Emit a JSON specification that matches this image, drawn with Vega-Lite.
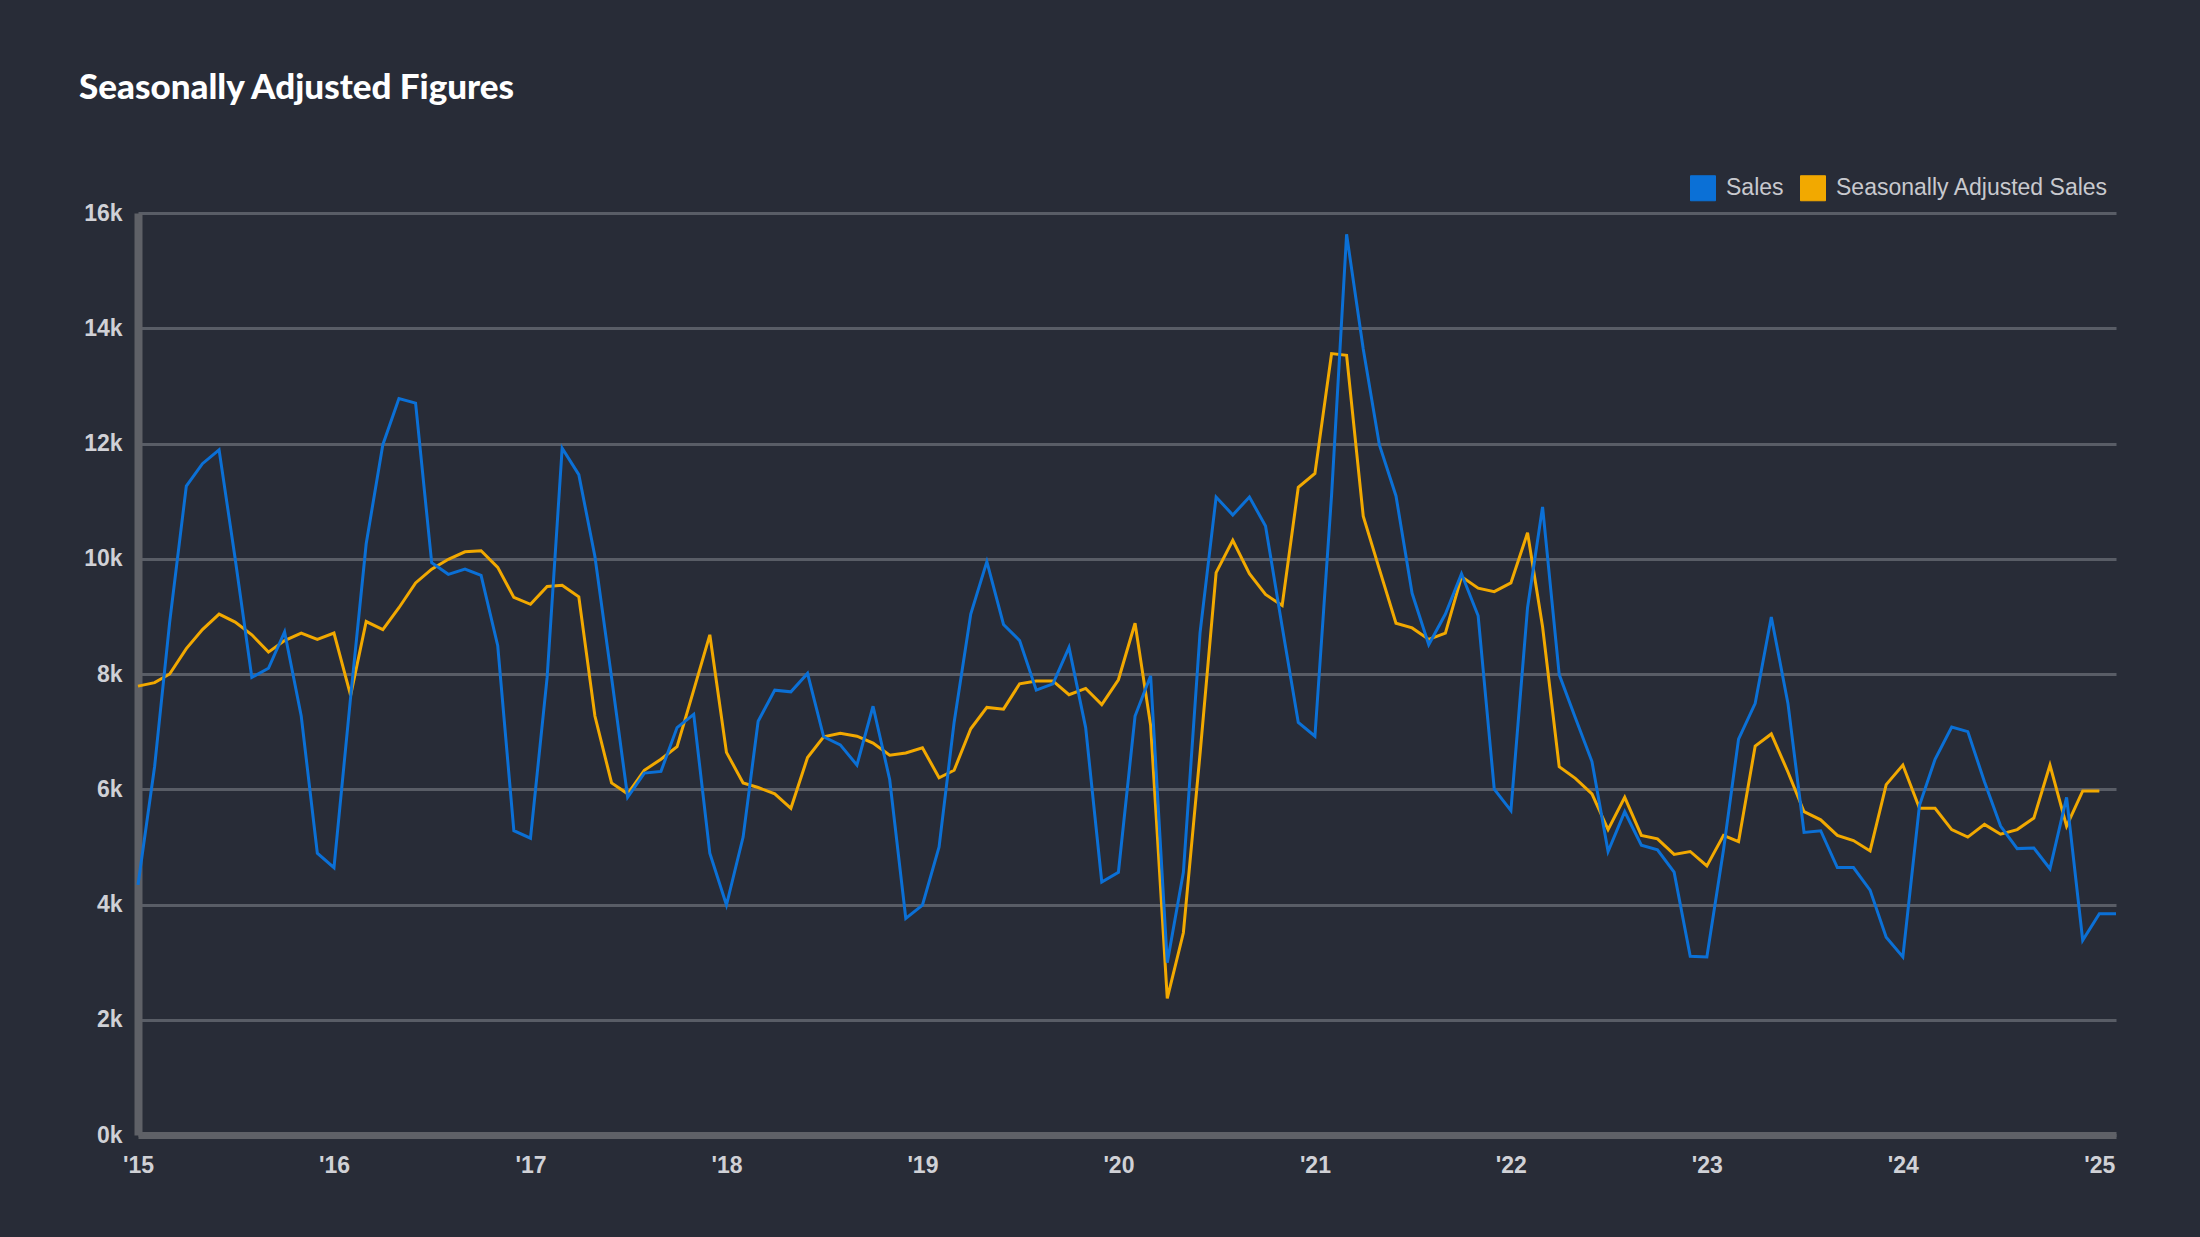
{
  "$schema": "https://vega.github.io/schema/vega-lite/v6.json",
  "autosize": {"type": "none"},
  "width": 1978,
  "height": 922,
  "padding": {"left": 138, "top": 213, "right": 84, "bottom": 102},
  "background": "#282c37",
  "title": {
    "text": "Seasonally Adjusted Figures",
    "anchor": "start",
    "frame": "group",
    "orient": "top",
    "dx": -59,
    "offset": 41,
    "baseline": "alphabetic",
    "font": "Lato",
    "fontSize": 35,
    "fontWeight": 900,
    "color": "#ffffff"
  },
  "config": {
    "view": {"stroke": null},
    "axis": {"labelFont": "Liberation Sans", "labelFontWeight": "bold", "labelFontSize": 23, "labelColor": "#d0d1d6", "ticks": false, "title": null}
  },
  "data": {
    "values": [
      {"month": "2015-01-01", "Sales": 4340, "Seasonally Adjusted Sales": 7790},
      {"month": "2015-02-01", "Sales": 6400, "Seasonally Adjusted Sales": 7850},
      {"month": "2015-03-01", "Sales": 8900, "Seasonally Adjusted Sales": 8000},
      {"month": "2015-04-01", "Sales": 11260, "Seasonally Adjusted Sales": 8440},
      {"month": "2015-05-01", "Sales": 11650, "Seasonally Adjusted Sales": 8770},
      {"month": "2015-06-01", "Sales": 11890, "Seasonally Adjusted Sales": 9040},
      {"month": "2015-07-01", "Sales": 10000, "Seasonally Adjusted Sales": 8900},
      {"month": "2015-08-01", "Sales": 7940, "Seasonally Adjusted Sales": 8680},
      {"month": "2015-09-01", "Sales": 8100, "Seasonally Adjusted Sales": 8380},
      {"month": "2015-10-01", "Sales": 8730, "Seasonally Adjusted Sales": 8580},
      {"month": "2015-11-01", "Sales": 7270, "Seasonally Adjusted Sales": 8710},
      {"month": "2015-12-01", "Sales": 4890, "Seasonally Adjusted Sales": 8600},
      {"month": "2016-01-01", "Sales": 4640, "Seasonally Adjusted Sales": 8710},
      {"month": "2016-02-01", "Sales": 7600, "Seasonally Adjusted Sales": 7630},
      {"month": "2016-03-01", "Sales": 10260, "Seasonally Adjusted Sales": 8910},
      {"month": "2016-04-01", "Sales": 11980, "Seasonally Adjusted Sales": 8770},
      {"month": "2016-05-01", "Sales": 12780, "Seasonally Adjusted Sales": 9150},
      {"month": "2016-06-01", "Sales": 12700, "Seasonally Adjusted Sales": 9580},
      {"month": "2016-07-01", "Sales": 9930, "Seasonally Adjusted Sales": 9820},
      {"month": "2016-08-01", "Sales": 9730, "Seasonally Adjusted Sales": 9990},
      {"month": "2016-09-01", "Sales": 9820, "Seasonally Adjusted Sales": 10120},
      {"month": "2016-10-01", "Sales": 9710, "Seasonally Adjusted Sales": 10140},
      {"month": "2016-11-01", "Sales": 8490, "Seasonally Adjusted Sales": 9850},
      {"month": "2016-12-01", "Sales": 5280, "Seasonally Adjusted Sales": 9330},
      {"month": "2017-01-01", "Sales": 5150, "Seasonally Adjusted Sales": 9210},
      {"month": "2017-02-01", "Sales": 7940, "Seasonally Adjusted Sales": 9520},
      {"month": "2017-03-01", "Sales": 11920, "Seasonally Adjusted Sales": 9540},
      {"month": "2017-04-01", "Sales": 11460, "Seasonally Adjusted Sales": 9340},
      {"month": "2017-05-01", "Sales": 10040, "Seasonally Adjusted Sales": 7270},
      {"month": "2017-06-01", "Sales": 7940, "Seasonally Adjusted Sales": 6110},
      {"month": "2017-07-01", "Sales": 5860, "Seasonally Adjusted Sales": 5920},
      {"month": "2017-08-01", "Sales": 6280, "Seasonally Adjusted Sales": 6330},
      {"month": "2017-09-01", "Sales": 6310, "Seasonally Adjusted Sales": 6520},
      {"month": "2017-10-01", "Sales": 7070, "Seasonally Adjusted Sales": 6740},
      {"month": "2017-11-01", "Sales": 7300, "Seasonally Adjusted Sales": 7720},
      {"month": "2017-12-01", "Sales": 4890, "Seasonally Adjusted Sales": 8680},
      {"month": "2018-01-01", "Sales": 3990, "Seasonally Adjusted Sales": 6640},
      {"month": "2018-02-01", "Sales": 5170, "Seasonally Adjusted Sales": 6110},
      {"month": "2018-03-01", "Sales": 7180, "Seasonally Adjusted Sales": 6030},
      {"month": "2018-04-01", "Sales": 7720, "Seasonally Adjusted Sales": 5920},
      {"month": "2018-05-01", "Sales": 7690, "Seasonally Adjusted Sales": 5670},
      {"month": "2018-06-01", "Sales": 8010, "Seasonally Adjusted Sales": 6550},
      {"month": "2018-07-01", "Sales": 6910, "Seasonally Adjusted Sales": 6910},
      {"month": "2018-08-01", "Sales": 6770, "Seasonally Adjusted Sales": 6970},
      {"month": "2018-09-01", "Sales": 6420, "Seasonally Adjusted Sales": 6920},
      {"month": "2018-10-01", "Sales": 7440, "Seasonally Adjusted Sales": 6800},
      {"month": "2018-11-01", "Sales": 6170, "Seasonally Adjusted Sales": 6590},
      {"month": "2018-12-01", "Sales": 3760, "Seasonally Adjusted Sales": 6630},
      {"month": "2019-01-01", "Sales": 3990, "Seasonally Adjusted Sales": 6720},
      {"month": "2019-02-01", "Sales": 5000, "Seasonally Adjusted Sales": 6200},
      {"month": "2019-03-01", "Sales": 7160, "Seasonally Adjusted Sales": 6330},
      {"month": "2019-04-01", "Sales": 9040, "Seasonally Adjusted Sales": 7050},
      {"month": "2019-05-01", "Sales": 9950, "Seasonally Adjusted Sales": 7420},
      {"month": "2019-06-01", "Sales": 8860, "Seasonally Adjusted Sales": 7390},
      {"month": "2019-07-01", "Sales": 8580, "Seasonally Adjusted Sales": 7830},
      {"month": "2019-08-01", "Sales": 7720, "Seasonally Adjusted Sales": 7880},
      {"month": "2019-09-01", "Sales": 7830, "Seasonally Adjusted Sales": 7880},
      {"month": "2019-10-01", "Sales": 8460, "Seasonally Adjusted Sales": 7640},
      {"month": "2019-11-01", "Sales": 7070, "Seasonally Adjusted Sales": 7750},
      {"month": "2019-12-01", "Sales": 4390, "Seasonally Adjusted Sales": 7470},
      {"month": "2020-01-01", "Sales": 4560, "Seasonally Adjusted Sales": 7900},
      {"month": "2020-02-01", "Sales": 7270, "Seasonally Adjusted Sales": 8880},
      {"month": "2020-03-01", "Sales": 7970, "Seasonally Adjusted Sales": 7110},
      {"month": "2020-04-01", "Sales": 2990, "Seasonally Adjusted Sales": 2370},
      {"month": "2020-05-01", "Sales": 4560, "Seasonally Adjusted Sales": 3510},
      {"month": "2020-06-01", "Sales": 8710, "Seasonally Adjusted Sales": 6610},
      {"month": "2020-07-01", "Sales": 11070, "Seasonally Adjusted Sales": 9760},
      {"month": "2020-08-01", "Sales": 10760, "Seasonally Adjusted Sales": 10320},
      {"month": "2020-09-01", "Sales": 11070, "Seasonally Adjusted Sales": 9740},
      {"month": "2020-10-01", "Sales": 10570, "Seasonally Adjusted Sales": 9380},
      {"month": "2020-11-01", "Sales": 8820, "Seasonally Adjusted Sales": 9190},
      {"month": "2020-12-01", "Sales": 7160, "Seasonally Adjusted Sales": 11240},
      {"month": "2021-01-01", "Sales": 6920, "Seasonally Adjusted Sales": 11480},
      {"month": "2021-02-01", "Sales": 11100, "Seasonally Adjusted Sales": 13560},
      {"month": "2021-03-01", "Sales": 15630, "Seasonally Adjusted Sales": 13530},
      {"month": "2021-04-01", "Sales": 13640, "Seasonally Adjusted Sales": 10740},
      {"month": "2021-05-01", "Sales": 11980, "Seasonally Adjusted Sales": 9820},
      {"month": "2021-06-01", "Sales": 11090, "Seasonally Adjusted Sales": 8880},
      {"month": "2021-07-01", "Sales": 9400, "Seasonally Adjusted Sales": 8800},
      {"month": "2021-08-01", "Sales": 8510, "Seasonally Adjusted Sales": 8600},
      {"month": "2021-09-01", "Sales": 9040, "Seasonally Adjusted Sales": 8710},
      {"month": "2021-10-01", "Sales": 9740, "Seasonally Adjusted Sales": 9690},
      {"month": "2021-11-01", "Sales": 9010, "Seasonally Adjusted Sales": 9490},
      {"month": "2021-12-01", "Sales": 6000, "Seasonally Adjusted Sales": 9430},
      {"month": "2022-01-01", "Sales": 5630, "Seasonally Adjusted Sales": 9580},
      {"month": "2022-02-01", "Sales": 9150, "Seasonally Adjusted Sales": 10450},
      {"month": "2022-03-01", "Sales": 10900, "Seasonally Adjusted Sales": 8820},
      {"month": "2022-04-01", "Sales": 7990, "Seasonally Adjusted Sales": 6390},
      {"month": "2022-05-01", "Sales": 7240, "Seasonally Adjusted Sales": 6190},
      {"month": "2022-06-01", "Sales": 6480, "Seasonally Adjusted Sales": 5920},
      {"month": "2022-07-01", "Sales": 4920, "Seasonally Adjusted Sales": 5300},
      {"month": "2022-08-01", "Sales": 5610, "Seasonally Adjusted Sales": 5860},
      {"month": "2022-09-01", "Sales": 5030, "Seasonally Adjusted Sales": 5200},
      {"month": "2022-10-01", "Sales": 4950, "Seasonally Adjusted Sales": 5140},
      {"month": "2022-11-01", "Sales": 4560, "Seasonally Adjusted Sales": 4870},
      {"month": "2022-12-01", "Sales": 3100, "Seasonally Adjusted Sales": 4920},
      {"month": "2023-01-01", "Sales": 3090, "Seasonally Adjusted Sales": 4670},
      {"month": "2023-02-01", "Sales": 4950, "Seasonally Adjusted Sales": 5200},
      {"month": "2023-03-01", "Sales": 6870, "Seasonally Adjusted Sales": 5090},
      {"month": "2023-04-01", "Sales": 7490, "Seasonally Adjusted Sales": 6750},
      {"month": "2023-05-01", "Sales": 8990, "Seasonally Adjusted Sales": 6960},
      {"month": "2023-06-01", "Sales": 7490, "Seasonally Adjusted Sales": 6300},
      {"month": "2023-07-01", "Sales": 5250, "Seasonally Adjusted Sales": 5610},
      {"month": "2023-08-01", "Sales": 5280, "Seasonally Adjusted Sales": 5470},
      {"month": "2023-09-01", "Sales": 4640, "Seasonally Adjusted Sales": 5200},
      {"month": "2023-10-01", "Sales": 4640, "Seasonally Adjusted Sales": 5110},
      {"month": "2023-11-01", "Sales": 4250, "Seasonally Adjusted Sales": 4930},
      {"month": "2023-12-01", "Sales": 3430, "Seasonally Adjusted Sales": 6080},
      {"month": "2024-01-01", "Sales": 3090, "Seasonally Adjusted Sales": 6420},
      {"month": "2024-02-01", "Sales": 5720, "Seasonally Adjusted Sales": 5670},
      {"month": "2024-03-01", "Sales": 6520, "Seasonally Adjusted Sales": 5670},
      {"month": "2024-04-01", "Sales": 7080, "Seasonally Adjusted Sales": 5300},
      {"month": "2024-05-01", "Sales": 7000, "Seasonally Adjusted Sales": 5170},
      {"month": "2024-06-01", "Sales": 6130, "Seasonally Adjusted Sales": 5390},
      {"month": "2024-07-01", "Sales": 5360, "Seasonally Adjusted Sales": 5220},
      {"month": "2024-08-01", "Sales": 4970, "Seasonally Adjusted Sales": 5300},
      {"month": "2024-09-01", "Sales": 4980, "Seasonally Adjusted Sales": 5500},
      {"month": "2024-10-01", "Sales": 4620, "Seasonally Adjusted Sales": 6420},
      {"month": "2024-11-01", "Sales": 5860, "Seasonally Adjusted Sales": 5360},
      {"month": "2024-12-01", "Sales": 3380, "Seasonally Adjusted Sales": 5970},
      {"month": "2025-01-01", "Sales": 3840, "Seasonally Adjusted Sales": 5970},
      {"month": "2025-02-01", "Sales": 3840}
    ]
  },
  "transform": [
    {"fold": ["Sales", "Seasonally Adjusted Sales"], "as": ["series", "value"]},
    {"filter": "isValid(datum.value)"}
  ],
  "encoding": {
    "x": {
      "field": "month",
      "type": "temporal",
      "scale": {
        "type": "utc",
        "domain": [
          {"year": 2015, "month": 1, "date": 1, "utc": true},
          {"year": 2025, "month": 2, "date": 1, "utc": true}
        ]
      },
      "axis": {
        "labelExpr": "\"'\" + utcFormat(datum.value, '%y')",
        "values": [
          {"year": 2015, "month": 1, "date": 1, "utc": true},
          {"year": 2016, "month": 1, "date": 1, "utc": true},
          {"year": 2017, "month": 1, "date": 1, "utc": true},
          {"year": 2018, "month": 1, "date": 1, "utc": true},
          {"year": 2019, "month": 1, "date": 1, "utc": true},
          {"year": 2020, "month": 1, "date": 1, "utc": true},
          {"year": 2021, "month": 1, "date": 1, "utc": true},
          {"year": 2022, "month": 1, "date": 1, "utc": true},
          {"year": 2023, "month": 1, "date": 1, "utc": true},
          {"year": 2024, "month": 1, "date": 1, "utc": true},
          {"year": 2025, "month": 1, "date": 1, "utc": true}
        ],
        "grid": false,
        "domainColor": "#5f6167",
        "domainWidth": 7,
        "labelPadding": 19,
        "labelBaseline": "top",
        "labelFlush": false,
        "labelOverlap": false
      }
    },
    "y": {
      "field": "value",
      "type": "quantitative",
      "scale": {"domain": [0, 16000], "nice": false},
      "axis": {
        "values": [0, 2000, 4000, 6000, 8000, 10000, 12000, 14000, 16000],
        "labelExpr": "datum.value / 1000 + 'k'",
        "grid": true,
        "gridColor": "#595d66",
        "gridWidth": 3,
        "domainColor": "#5f6167",
        "domainWidth": 8,
        "labelPadding": 16,
        "zindex": 0
      }
    },
    "color": {
      "field": "series",
      "type": "nominal",
      "scale": {"domain": ["Sales", "Seasonally Adjusted Sales"], "range": ["#0b70d6", "#f2a900"]},
      "legend": {
        "title": null,
        "orient": "none",
        "legendX": 1552,
        "legendY": -38,
        "direction": "horizontal",
        "symbolType": "square",
        "symbolSize": 625,
        "symbolStrokeWidth": 1,
        "symbolOpacity": 1,
        "labelFont": "Liberation Sans",
        "labelFontSize": 23,
        "labelColor": "#c8c9ce",
        "labelLimit": 500,
        "labelOffset": 10,
        "columnPadding": 14,
        "encode": {"symbols": {"update": {"fill": {"scale": "color", "field": "value"}}}}
      }
    }
  },
  "layer": [
    {
      "transform": [{"filter": "datum.series === 'Seasonally Adjusted Sales'"}],
      "mark": {"type": "line", "strokeWidth": 3}
    },
    {
      "transform": [{"filter": "datum.series === 'Sales'"}],
      "mark": {"type": "line", "strokeWidth": 3}
    }
  ]
}
